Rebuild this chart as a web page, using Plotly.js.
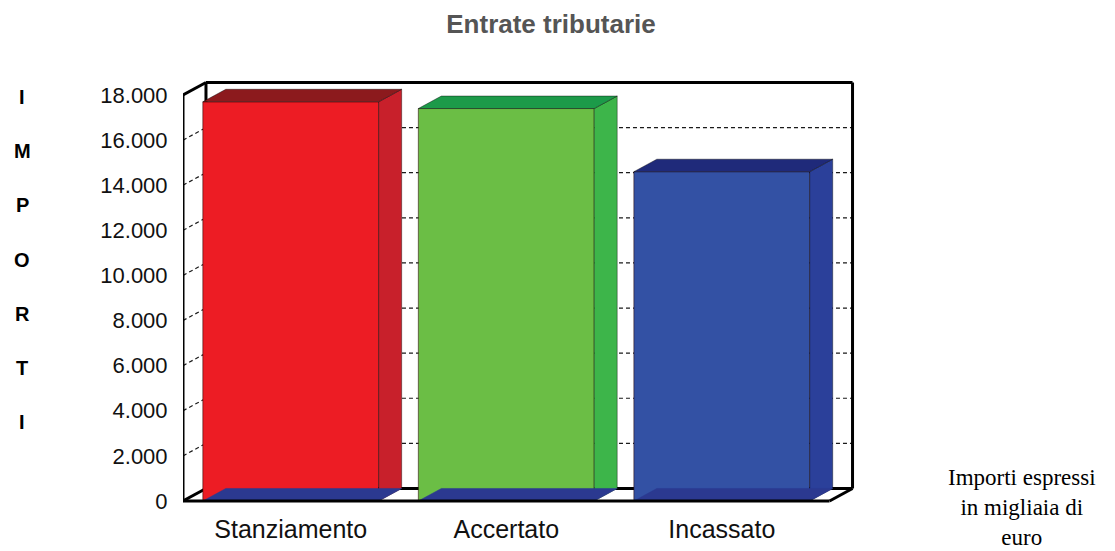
<!DOCTYPE html>
<html>
<head>
<meta charset="utf-8">
<script src="https://cdn.plot.ly/plotly-3.0.1.min.js"></script>
<style>html,body{margin:0;padding:0;background:#fff;}#chart{width:1115px;height:551px;}</style>
</head>
<body>
<div id="chart"></div>
<script>
// ---- data ----
const categories = ["Stanziamento", "Accertato", "Incassato"];
const values = [17700, 17400, 14600];
const tickValues = [0, 2000, 4000, 6000, 8000, 10000, 12000, 14000, 16000, 18000];
const axisLetters = ["I", "M", "P", "O", "R", "T", "I"];
const titleText = "Entrate tributarie";
const noteLines = ["Importi espressi", "in migliaia di", "euro"];

// ---- styling / geometry ----
const frontColors = ["#ED1C24", "#6BBE45", "#3351A4"];
const sideColors  = ["#C8202B", "#3DB54A", "#2B409A"];
const topColors   = ["#8C1A1D", "#1C9A49", "#1F2A7A"];
const floorColor  = "#2B3990";

const W = 1115, H = 551;
const PX_X = 215.67;      // pixels per category unit
const PX_Y = 0.02256;     // pixels per value unit
const X0PX = 183;         // pixel of x=-0.5
const Y0PX = 501;         // pixel of y=0
const DX = 23 / PX_X;     // depth offset (x units)
const DY = 12.5 / PX_Y;   // depth offset (y units)
const BW = 0.816;         // bar width
const YMAX = 18000;

const xr = [-0.5, 2.5 + DX + 0.03];
const yr = [-90, YMAX + DY + 200];
const mL = X0PX;
const plotW = (xr[1] - xr[0]) * PX_X;
const mR = W - mL - plotW;
const bottomPx = Y0PX - yr[0] * PX_Y;
const plotH = (yr[1] - yr[0]) * PX_Y;
const mB = H - bottomPx;
const mT = bottomPx - plotH;
const paperX = px => (px - mL) / plotW;
const paperY = py => (bottomPx - py) / plotH;

const traces = [];
// front faces
traces.push({
  type: "bar", x: categories.map((c, i) => i), y: values, width: BW,
  marker: {color: frontColors, line: {color: "rgba(40,0,0,0.55)", width: 1}},
  hoverinfo: "skip", showlegend: false
});
values.forEach((v, i) => {
  const l = i - BW / 2, r = i + BW / 2;
  // side
  traces.push({type: "scatter", mode: "lines", fill: "toself", fillcolor: sideColors[i],
    x: [r, r + DX, r + DX, r, r], y: [0, DY, v + DY, v, 0],
    line: {color: "rgba(0,0,0,0.5)", width: 0.8}, hoverinfo: "skip", showlegend: false});
  // top
  traces.push({type: "scatter", mode: "lines", fill: "toself", fillcolor: topColors[i],
    x: [l, r, r + DX, l + DX, l], y: [v, v, v + DY, v + DY, v],
    line: {color: "rgba(0,0,0,0.5)", width: 0.8}, hoverinfo: "skip", showlegend: false});
  // bottom floor (blue)
  traces.push({type: "scatter", mode: "lines", fill: "toself", fillcolor: floorColor,
    x: [l, r, r + DX, l + DX, l], y: [0, 0, DY, DY, 0],
    line: {color: floorColor, width: 0.5}, hoverinfo: "skip", showlegend: false});
});

const shapes = [];
const box = {color: "#000", width: 3};
const line = (x0, y0, x1, y1, ln, layer) => shapes.push({type: "line", xref: "x", yref: "y",
  x0, y0, x1, y1, line: ln, layer: layer || "below"});
// gridlines (back wall + left wall)
const grid = {color: "#1a1a1a", width: 1.2, dash: "4px,3px"};
tickValues.slice(1, -1).forEach(t => {
  line(-0.5 + DX, t + DY, 2.5 + DX, t + DY, grid);
  line(-0.5, t, -0.5 + DX, t + DY, grid);
});
// back wall frame
line(-0.5 + DX, DY, -0.5 + DX, YMAX + DY, box);
line(-0.5 + DX, YMAX + DY, 2.5 + DX, YMAX + DY, box);
line(2.5 + DX, DY, 2.5 + DX, YMAX + DY, box);
line(-0.5 + DX, DY, 2.5 + DX, DY, box);
// front / left edges
line(-0.5, 0, -0.5, YMAX, box, "above");
line(-0.5, YMAX, -0.5 + DX, YMAX + DY, box, "above");
line(-0.5, 0, -0.5 + DX, DY, box);
line(-0.5, 0, 2.5, 0, box, "above");
line(2.5, 0, 2.5 + DX, DY, box, "above");

const annotations = [];
const letterTop = 97, letterStep = 54.2;
axisLetters.forEach((ch, k) => annotations.push({
  xref: "paper", yref: "paper", x: paperX(22), y: paperY(letterTop + k * letterStep),
  xanchor: "center", yanchor: "middle", showarrow: false,
  text: "<b>" + ch + "</b>", font: {family: "Liberation Sans, Arial", size: 20, color: "#000"}
}));
annotations.push({
  xref: "paper", yref: "paper", x: paperX(1023), y: paperY(508),
  xanchor: "center", yanchor: "middle", showarrow: false, align: "center",
  text: noteLines.join("<br>"),
  font: {family: "Liberation Serif, Times New Roman", size: 23, color: "#000"}
});

const layout = {
  width: W, height: H,
  margin: {l: mL, r: mR, t: mT, b: mB, pad: 0},
  paper_bgcolor: "#fff", plot_bgcolor: "rgba(0,0,0,0)",
  separators: ",.",
  title: {text: "<b>" + titleText + "</b>", xref: "container", yref: "container",
    x: 551 / W, y: 1 - 24 / H, xanchor: "center", yanchor: "middle",
    font: {family: "Liberation Sans, Arial", size: 26, color: "#555"}},
  xaxis: {range: xr, tickvals: [0, 1, 2], ticktext: categories, showgrid: false,
    zeroline: false, showline: false, ticks: "outside", ticklen: 4, tickcolor: "rgba(0,0,0,0)",
    tickfont: {family: "Liberation Sans, Arial", size: 25, color: "#111"}, fixedrange: true},
  yaxis: {range: yr, tickvals: tickValues, tickformat: ",d", showgrid: false,
    zeroline: false, showline: false, ticks: "outside", ticklen: 10, tickcolor: "rgba(0,0,0,0)",
    tickfont: {family: "Liberation Sans, Arial", size: 22, color: "#111"}, fixedrange: true},
  shapes, annotations, showlegend: false, bargap: 0
};

Plotly.newPlot("chart", traces, layout, {staticPlot: true, displayModeBar: false});
</script>
</body>
</html>
